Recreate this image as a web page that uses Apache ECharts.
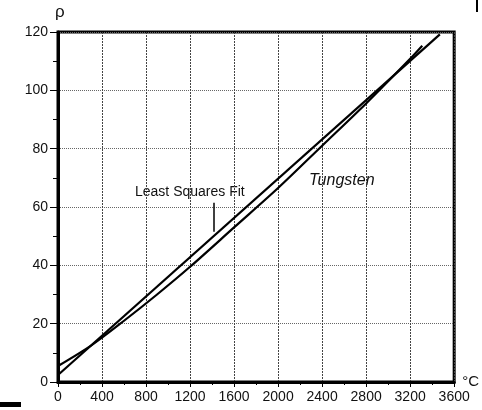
<!DOCTYPE html>
<html>
<head>
<meta charset="utf-8">
<script src="https://cdn.jsdelivr.net/npm/echarts@6/dist/echarts.min.js"></script>
<style>
  html, body { margin: 0; padding: 0; background: #fff; }
  #chart { width: 482px; height: 410px; }
</style>
</head>
<body>
<div id="chart"></div>
<script>
// tungsten resistivity vs temperature
var tungstenTemp = [0, 300, 600, 900, 1200, 1600, 2000, 2400, 2800, 3200, 3310];
var tungstenRho = [5.5, 12.5, 21, 30, 39.5, 53, 66.5, 81, 95.5, 110.8, 115.3];
// least squares straight line, two ends
var fitTemp = [0, 3470];
var fitRho = [2.4, 119.2];
var xTicks = [0, 400, 800, 1200, 1600, 2000, 2400, 2800, 3200, 3600];
var yTicks = [0, 20, 40, 60, 80, 100, 120];

var FONT = "Liberation Sans, Arial, sans-serif";

var chart = echarts.init(document.getElementById("chart"));

function pairs(xs, ys) {
  return xs.map(function (x, i) { return [x, ys[i]]; });
}

var option = {
  backgroundColor: "#fff",
  animation: false,
  grid: {
    left: 58, right: 27, top: 32, bottom: 28,
    show: true, borderColor: "#000", borderWidth: 3
  },
  xAxis: {
    type: "value",
    min: xTicks[0], max: xTicks[xTicks.length - 1], interval: 400,
    name: "°C", nameLocation: "end", nameGap: 8,
    nameTextStyle: { fontFamily: FONT, fontSize: 15, color: "#111", verticalAlign: "middle" },
    axisLine: { show: true, lineStyle: { color: "#000", width: 3 } },
    axisTick: { show: true, length: 5, lineStyle: { color: "#000", width: 1 } },
    minorTick: { show: true, splitNumber: 2, length: 3, lineStyle: { color: "#000" } },
    axisLabel: {
      fontFamily: FONT, fontSize: 14, color: "#111", margin: 8,
      formatter: function (v) { return String(v); }
    },
    splitLine: { show: true, lineStyle: { color: "#444", width: 1, type: [2, 1] } }
  },
  yAxis: {
    type: "value",
    min: yTicks[0], max: yTicks[yTicks.length - 1], interval: 20,
    axisLine: { show: true, lineStyle: { color: "#000", width: 3 } },
    axisTick: { show: true, length: 8, lineStyle: { color: "#000", width: 1 } },
    minorTick: { show: true, splitNumber: 2, length: 5, lineStyle: { color: "#000" } },
    axisLabel: {
      fontFamily: FONT, fontSize: 14, color: "#111", margin: 10,
      formatter: function (v) { return String(v); }
    },
    splitLine: { show: true, lineStyle: { color: "#666", width: 1, type: [1, 1] } }
  },
  series: [
    {
      name: "Tungsten",
      type: "line",
      data: pairs(tungstenTemp, tungstenRho),
      smooth: 0.3,
      showSymbol: false,
      lineStyle: { color: "#000", width: 2.2 }
    },
    {
      name: "Least Squares Fit",
      type: "line",
      data: pairs(fitTemp, fitRho),
      showSymbol: false,
      lineStyle: { color: "#000", width: 2.2 },
      markLine: {
        silent: true,
        symbol: "none",
        label: { show: false },
        lineStyle: { color: "#000", width: 1.5, type: "solid" },
        data: [[{ coord: [1415, 61.5] }, { coord: [1415, 51.5] }]]
      }
    }
  ],
  graphic: [
    { type: "text", left: 55, top: 4,
      style: { text: "ρ", font: "17px " + FONT, fill: "#111" } },
    { type: "text", left: 135, top: 185,
      style: { text: "Least Squares Fit", font: "14px " + FONT, fill: "#111" } },
    { type: "text", left: 309, top: 173,
      style: { text: "Tungsten", font: "italic 16px " + FONT, fill: "#111" } },
    { type: "rect", shape: { x: 0, y: 402, width: 21, height: 5 }, style: { fill: "#000" } },
    { type: "rect", shape: { x: 476, y: 0, width: 2, height: 12 }, style: { fill: "#000" } }
  ]
};

chart.setOption(option);
</script>
</body>
</html>
